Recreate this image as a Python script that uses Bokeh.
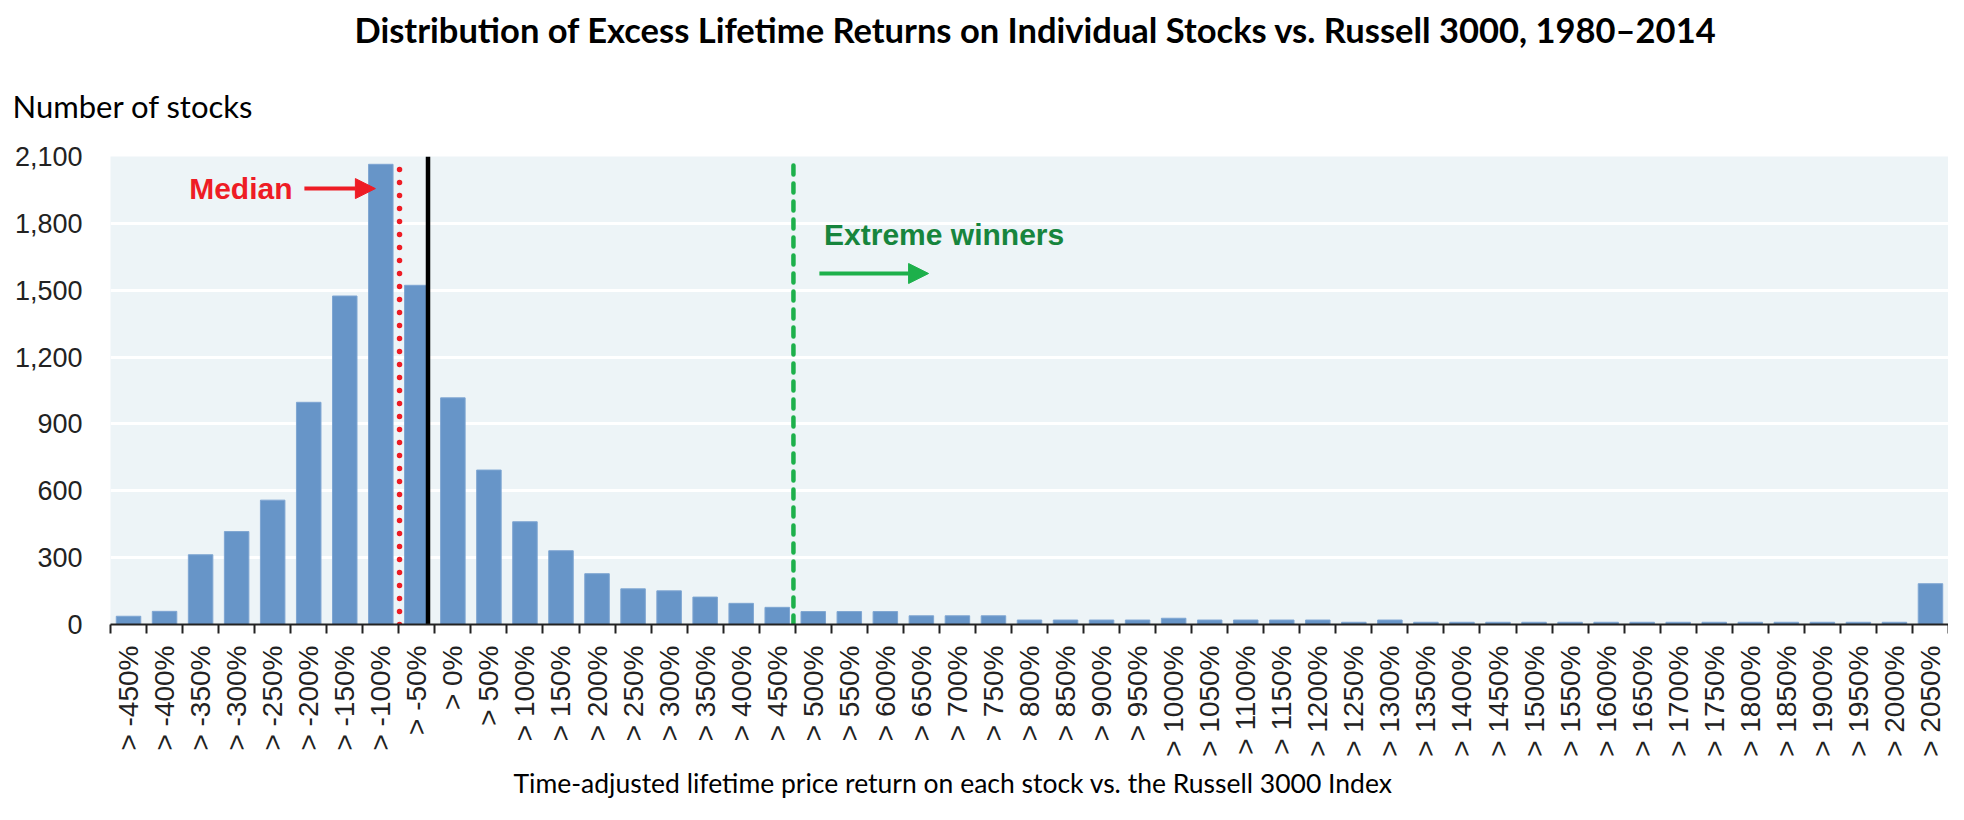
import math
from bokeh.plotting import figure
from bokeh.models import (ColumnDataSource, FixedTicker, Label, Arrow, NormalHead,
                          NumeralTickFormatter, Range1d, Title)
from bokeh.embed import file_html
from bokeh.resources import INLINE

# ---------------- data ----------------
tick_labels = ["> -450%", "> -400%", "> -350%", "> -300%", "> -250%", "> -200%",
               "> -150%", "> -100%", "> -50%", "> 0%", "> 50%", "> 100%", "> 150%",
               "> 200%", "> 250%", "> 300%", "> 350%", "> 400%", "> 450%", "> 500%",
               "> 550%", "> 600%", "> 650%", "> 700%", "> 750%", "> 800%", "> 850%",
               "> 900%", "> 950%", "> 1000%", "> 1050%", "> 1100%", "> 1150%",
               "> 1200%", "> 1250%", "> 1300%", "> 1350%", "> 1400%", "> 1450%",
               "> 1500%", "> 1550%", "> 1600%", "> 1650%", "> 1700%", "> 1750%",
               "> 1800%", "> 1850%", "> 1900%", "> 1950%", "> 2000%", "> 2050%"]
stock_counts = [37, 59, 313, 417, 558, 997, 1474, 2065, 1522, 1017,
                693, 461, 331, 228, 160, 151, 123, 95, 77,
                58, 58, 58, 39, 39, 39, 20, 20, 20, 20, 28,
                20, 20, 20, 20, 10, 20,
                10, 10, 10, 10, 10, 10, 10, 10, 10, 10, 10, 10, 10, 10,
                183]
y_ticks = [0, 300, 600, 900, 1200, 1500, 1800, 2100]

median_pos = 7.52       # category-index position of median line
russell_pos = 8.31      # solid black reference line
extreme_pos = 18.45     # boundary before "> 500%"

title_text = "Distribution of Excess Lifetime Returns on Individual Stocks vs. Russell 3000, 1980\u20132014"
y_title = "Number of stocks"
x_title = "Time-adjusted lifetime price return on each stock vs. the Russell 3000 Index"

# ---------------- figure ----------------
idx = list(range(len(tick_labels)))
src = ColumnDataSource(dict(x=idx, top=stock_counts))

p = figure(width=1948, height=804, output_backend="svg", toolbar_location=None,
           x_range=Range1d(-0.5, len(tick_labels) - 0.5), y_range=Range1d(0, 2100),
           min_border_left=110, min_border_right=0, min_border_top=156,
           min_border_bottom=180, title=None)
p.background_fill_color = "#EDF4F7"
p.border_fill_color = "white"
p.outline_line_color = None

p.vbar(x="x", top="top", width=0.68, source=src, fill_color="#6795C8",
       line_color="#7FA6D2", line_width=1)

# grid
p.xgrid.grid_line_color = None
p.ygrid.ticker = FixedTicker(ticks=y_ticks)
p.ygrid.grid_line_color = "white"
p.ygrid.grid_line_width = 3

# y axis
p.yaxis.ticker = FixedTicker(ticks=y_ticks)
p.yaxis.formatter = NumeralTickFormatter(format="0,0")
p.yaxis.axis_line_color = None
p.yaxis.major_tick_line_color = None
p.yaxis.minor_tick_line_color = None
p.yaxis.major_label_standoff = 22
p.yaxis.major_label_text_font = "Liberation Sans"
p.yaxis.major_label_text_font_size = "27px"
p.yaxis.major_label_text_color = "#222222"

# x axis
p.xaxis.ticker = FixedTicker(ticks=idx, minor_ticks=[i - 0.5 for i in idx] + [len(idx) - 0.5])
p.xaxis.major_label_overrides = {i: lab for i, lab in enumerate(tick_labels)}
p.xaxis.major_label_orientation = math.pi / 2
p.xaxis.major_tick_line_color = None
p.xaxis.major_tick_out = 0
p.xaxis.major_tick_in = 0
p.xaxis.minor_tick_line_color = "#222222"
p.xaxis.minor_tick_line_width = 2
p.xaxis.minor_tick_out = 9
p.xaxis.minor_tick_in = 0
p.xaxis.axis_line_color = "#222222"
p.xaxis.axis_line_width = 2
p.xaxis.major_label_standoff = 12
p.xaxis.major_label_text_font = "Liberation Sans"
p.xaxis.major_label_text_font_size = "28px"
p.xaxis.major_label_text_color = "#222222"

# reference lines
p.segment(x0=[median_pos], y0=[0], x1=[median_pos], y1=[2100], line_color="#EE1C25",
          line_width=5.5, line_dash="0 13", line_cap="round")
p.segment(x0=[russell_pos], y0=[0], x1=[russell_pos], y1=[2100], line_color="black",
          line_width=4.5)
p.segment(x0=[extreme_pos], y0=[0], x1=[extreme_pos], y1=[2100], line_color="#1DB04B",
          line_width=4.5, line_dash="9 9", line_cap="round")

# annotations
p.add_layout(Label(x=4.55, y=1956, text="Median", text_align="right",
                   text_baseline="middle", text_color="#EE1C25", text_font_style="bold",
                   text_font="Liberation Sans", text_font_size="30px"))
p.add_layout(Arrow(x_start=4.88, y_start=1956, x_end=6.85, y_end=1956,
                   line_color="#EE1C25", line_width=4,
                   end=NormalHead(size=20, fill_color="#EE1C25", line_color="#EE1C25")))
p.add_layout(Label(x=19.3, y=1750, text="Extreme winners", text_align="left",
                   text_baseline="middle", text_color="#17853D", text_font_style="bold",
                   text_font="Liberation Sans", text_font_size="30px"))
p.add_layout(Arrow(x_start=19.17, y_start=1575, x_end=22.2, y_end=1575,
                   line_color="#1DB04B", line_width=4,
                   end=NormalHead(size=20, fill_color="#1DB04B", line_color="#1DB04B")))

# titles (first added sits nearest to the plot)
p.add_layout(Title(text=y_title, align="left", offset=-98, standoff=64,
                   text_font="Lato", text_font_size="31px", text_font_style="normal",
                   text_color="black"), "above")
p.add_layout(Title(text=title_text, align="left", offset=244, standoff=6,
                   text_font="Lato", text_font_size="34.5px", text_font_style="bold",
                   text_color="black"), "above")
p.add_layout(Title(text=x_title, align="left", offset=403, standoff=11,
                   text_font="Lato", text_font_size="26.5px", text_font_style="normal",
                   text_color="black"), "below")

open("out.html", "w").write(file_html(p, INLINE))
